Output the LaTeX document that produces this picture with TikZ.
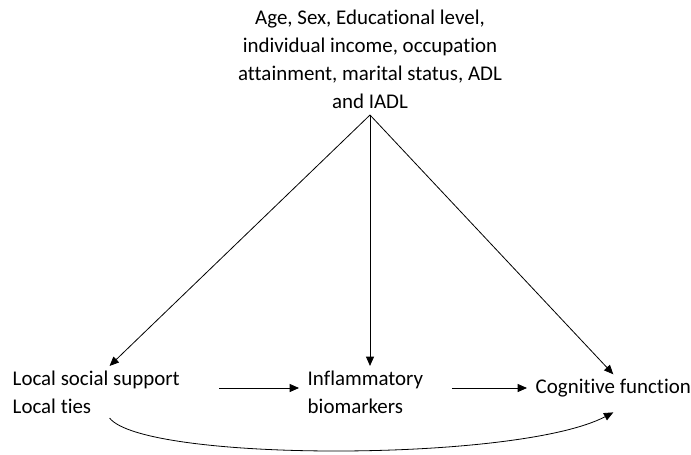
\documentclass[tikz,border=0pt]{standalone}
\usepackage{fontspec}
\setmainfont[Ligatures={NoCommon}]{Carlito}
\usetikzlibrary{positioning,arrows.meta}

\begin{document}
\begin{tikzpicture}[x=0.75pt,y=-0.75pt,font=\fontsize{15.7}{21}\selectfont,
  link/.style={line width=0.6pt,-{Triangle[length=7pt,width=6pt]}}]
\useasboundingbox (0,0) rectangle (691,454);
\path node[align=center] (confounders) at (370,59)
    {Age, Sex, Educational level,\\ individual income, occupation\\ attainment, marital status, ADL\\ and IADL}
  coordinate (apex) at (370,115)
  node[align=left,anchor=west] (support) at (8,392) {Local social support\\ Local ties}
  node[align=left,anchor=west] (biomarkers) at (303,392) {Inflammatory\\ biomarkers}
  node[anchor=west] (cognition) at (531,388) {Cognitive function};
\draw[link] (apex) -- ([xshift=10pt]support.north);
\draw[link] (apex) -- (apex |- biomarkers.north);
\draw[link] (apex) -- (cognition.north);
\draw[link,shorten <=26pt,shorten >=3pt] (support.east |- cognition.west) -- (biomarkers.west |- cognition.west);
\draw[link,shorten <=18pt,shorten >=3pt] (biomarkers.east |- cognition.west) -- (cognition.west);
\draw[link] ([xshift=10pt]support.south) .. controls +(35,44) and +(-95,50) .. ([yshift=-8pt]cognition.south);
\end{tikzpicture}
\end{document}
